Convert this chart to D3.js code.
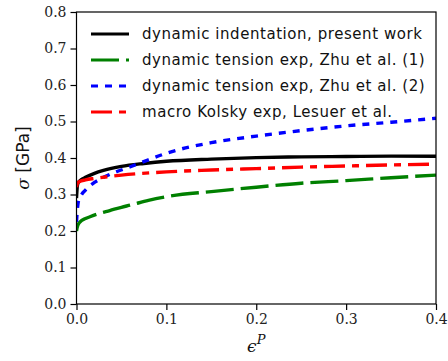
<!DOCTYPE html>
<html lang="en">
<head>
    <meta charset="UTF-8">
    <title>Flow stress vs plastic strain</title>
    <script src="https://d3js.org/d3.v7.min.js"></script>
    <style>
        body {
            margin: 0;
            background: white;
        }
        .tick text {
            font-family: "DejaVu Serif", serif;
            font-size: 14px;
            fill: #222;
        }
        .legend text {
            font-family: "DejaVu Sans", sans-serif;
            font-size: 15px;
            letter-spacing: 0.55px;
            fill: #111;
        }
    </style>
</head>
<body>
    <div id="chart"></div>
    <script>
        const width = 448;
        const height = 361;
        const margin = {top: 12, right: 12, bottom: 57, left: 76.5};

        // data (plastic strain -> stress in GPa)
        const blackEps = [0, 0.001, 0.002, 0.005, 0.01, 0.02, 0.03, 0.05, 0.075, 0.1, 0.15, 0.2, 0.25, 0.3, 0.35, 0.4];
        const blackSig = [0.29, 0.325, 0.333, 0.340, 0.347, 0.358, 0.366, 0.377, 0.385, 0.391, 0.397, 0.401, 0.403, 0.404, 0.405, 0.405];

        const greenEps = [0, 0.001, 0.004, 0.01, 0.015, 0.025, 0.037, 0.05, 0.06, 0.08, 0.1, 0.15, 0.2, 0.25, 0.3, 0.35, 0.4];
        const greenSig = [0.200, 0.212, 0.225, 0.234, 0.239, 0.248, 0.256, 0.265, 0.271, 0.284, 0.294, 0.308, 0.320, 0.331, 0.338, 0.346, 0.353];

        const blueEps = [0, 0.001, 0.002, 0.005, 0.01, 0.02, 0.03, 0.04, 0.06, 0.08, 0.1, 0.15, 0.2, 0.25, 0.3, 0.35, 0.4];
        const blueSig = [0.225, 0.26, 0.28, 0.297, 0.312, 0.333, 0.347, 0.358, 0.376, 0.395, 0.413, 0.442, 0.460, 0.475, 0.488, 0.498, 0.509];

        const redEps = [0, 0.001, 0.003, 0.01, 0.02, 0.05, 0.1, 0.15, 0.2, 0.25, 0.3, 0.35, 0.4];
        const redSig = [0.320, 0.330, 0.335, 0.340, 0.344, 0.353, 0.362, 0.367, 0.371, 0.375, 0.378, 0.381, 0.383];

        const labels = [
            "dynamic indentation, present work",
            "dynamic tension exp, Zhu et al. (1)",
            "dynamic tension exp, Zhu et al. (2)",
            "macro Kolsky exp, Lesuer et al."
        ];
        const xTicks = [0.0, 0.1, 0.2, 0.3, 0.4];
        const yTicks = [0.0, 0.1, 0.2, 0.3, 0.4, 0.5, 0.6, 0.7, 0.8];

        const series = [
            {eps: blackEps, sig: blackSig, color: "#000000", dash: null},
            {eps: greenEps, sig: greenSig, color: "#008000", dash: "28,7"},
            {eps: blueEps, sig: blueSig, color: "#0000ff", dash: "7,7"},
            {eps: redEps, sig: redSig, color: "#ff0000", dash: "21,7,7,7"}
        ];

        const svg = d3.select("#chart").append("svg")
            .attr("width", width)
            .attr("height", height);

        const x = d3.scaleLinear().domain([0, 0.4]).range([margin.left, width - margin.right]);
        const y = d3.scaleLinear().domain([0, 0.8]).range([height - margin.bottom, margin.top]);

        // clip so the thick lines don't spill over the frame
        svg.append("clipPath").attr("id", "clip")
            .append("rect")
            .attr("x", x(0)).attr("y", y(0.8))
            .attr("width", x(0.4) - x(0)).attr("height", y(0) - y(0.8));

        const line = d3.line()
            .x(d => x(d[0]))
            .y(d => y(d[1]))
            .curve(d3.curveMonotoneX);

        series.forEach(s => {
            svg.append("path")
                .datum(s.eps.map((e, i) => [e, s.sig[i]]))
                .attr("clip-path", "url(#clip)")
                .attr("fill", "none")
                .attr("stroke", s.color)
                .attr("stroke-width", 3.4)
                .attr("stroke-dasharray", s.dash)
                .attr("d", line);
        });

        // axes
        const xAxis = d3.axisBottom(x).tickValues(xTicks).tickFormat(d3.format(".1f")).tickSize(6).tickPadding(4);
        const yAxis = d3.axisLeft(y).tickValues(yTicks).tickFormat(d3.format(".1f")).tickSize(6).tickPadding(4);

        svg.append("g")
            .attr("transform", `translate(0,${y(0)})`)
            .call(xAxis)
            .call(g => g.select(".domain").remove())
            .selectAll("line").attr("stroke-width", 1.2);

        svg.append("g")
            .attr("transform", `translate(${x(0)},0)`)
            .call(yAxis)
            .call(g => g.select(".domain").remove())
            .selectAll("line").attr("stroke-width", 1.2);

        // frame
        svg.append("rect")
            .attr("x", x(0)).attr("y", y(0.8))
            .attr("width", x(0.4) - x(0)).attr("height", y(0) - y(0.8))
            .attr("fill", "none")
            .attr("stroke", "black")
            .attr("stroke-width", 1.2);

        // axis labels
        const yl = svg.append("text")
            .attr("transform", `translate(29,${(y(0) + y(0.8)) / 2}) rotate(-90)`)
            .attr("text-anchor", "middle")
            .attr("font-size", 17)
            .attr("fill", "#111");
        yl.append("tspan").attr("font-family", "DejaVu Serif, serif").attr("font-style", "italic").text("σ");
        yl.append("tspan").attr("font-family", "DejaVu Sans, sans-serif").text(" [GPa]");

        const xl = svg.append("text")
            .attr("x", (x(0) + x(0.4)) / 2)
            .attr("y", 352)
            .attr("text-anchor", "middle")
            .attr("font-family", "DejaVu Serif, serif")
            .attr("font-style", "italic")
            .attr("fill", "#111");
        xl.append("tspan").attr("font-size", 17).text("ϵ");
        xl.append("tspan").attr("font-size", 13).attr("dy", -8).text("P");

        // legend
        const legend = svg.append("g").attr("class", "legend");
        const rowY = [34, 60, 86, 112];
        series.forEach((s, i) => {
            legend.append("line")
                .attr("x1", 91).attr("x2", 129)
                .attr("y1", rowY[i]).attr("y2", rowY[i])
                .attr("stroke", s.color)
                .attr("stroke-width", 3.2)
                .attr("stroke-dasharray", s.dash);
            legend.append("text")
                .attr("x", 142)
                .attr("y", rowY[i])
                .attr("dy", "0.35em")
                .text(labels[i]);
        });
    </script>
</body>
</html>
